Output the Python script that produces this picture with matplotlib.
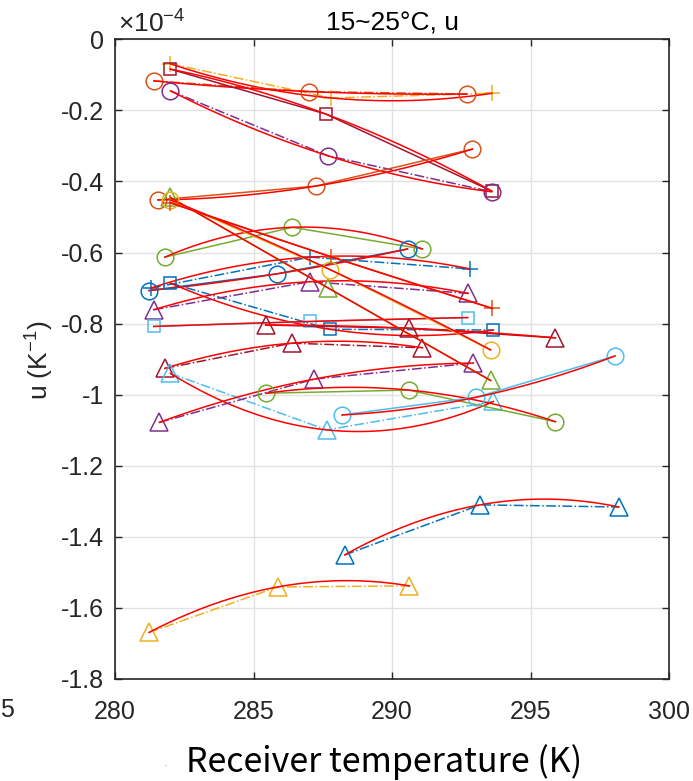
import matplotlib.pyplot as plt
import numpy as np
from matplotlib.ticker import FuncFormatter

plt.rcParams['font.family'] = ['Liberation Sans', 'DejaVu Sans']
plt.rcParams['mathtext.default'] = 'regular'

# receiver temperature (K), three set-points per run
temp_runs = [
    [282.0, 287.8, 293.6],
    [281.4, 287.0, 292.7],
    [282.0, 287.6, 293.6],
    [282.0, 287.7, 293.6],
    [281.55, 287.25, 292.9],
    [281.8, 286.4, 291.1],
    [281.23, 285.84, 290.56],
    [281.3, 287.04, 292.8],
    [282.0, 287.76, 293.66],
    [281.4, 287.04, 292.75],
    [281.4, 287.04, 292.73],
    [285.44, 290.6, 295.9],
    [281.8, 286.38, 291.1],
    [282.0, 287.64, 293.66],
    [281.6, 287.2, 292.94],
    [285.45, 290.6, 295.9],
    [288.2, 293.05, 298.05],
    [282.0, 287.7, 293.56],
    [282.0, 287.76, 293.56],
    [282.0, 287.8, 293.62],
    [288.29, 293.18, 298.19],
    [281.23, 285.87, 290.63],
]
# u, in units of 1e-4 1/K
u_runs = [
    [-0.069, -0.165, -0.152],
    [-0.117, -0.147, -0.154],
    [-0.084, -0.210, -0.427],
    [-0.145, -0.328, -0.429],
    [-0.452, -0.413, -0.309],
    [-0.613, -0.529, -0.590],
    [-0.707, -0.660, -0.590],
    [-0.700, -0.613, -0.646],
    [-0.686, -0.816, -0.818],
    [-0.761, -0.682, -0.715],
    [-0.808, -0.794, -0.783],
    [-0.804, -0.813, -0.840],
    [-0.926, -0.855, -0.868],
    [-0.940, -1.099, -1.019],
    [-1.078, -0.956, -0.911],
    [-0.996, -0.987, -1.076],
    [-1.057, -1.007, -0.891],
    [-0.445, -0.700, -0.960],
    [-0.452, -0.648, -0.874],
    [-0.460, -0.612, -0.757],
    [-1.451, -1.310, -1.316],
    [-1.669, -1.541, -1.538],
]

# matlab default colour order
C1, C2, C3, C4, C5, C6, C7 = ('#0072BD', '#D95319', '#EDB120', '#7E2F8E',
                              '#77AC30', '#4DBEEE', '#A2142F')
run_colors = [C3, C2, C7, C4, C2, C5, C1, C1, C1, C4, C6,
              C7, C7, C6, C4, C5, C6, C5, C3, C2, C1, C3]
run_markers = ['+', 'o', 's', 'o', 'o', 'o', 'o', '+', 's', '^', 's',
               '^', '^', '^', '^', 'o', 'o', '^', 'o', '+', '^', '^']
run_styles = ['-.', '-.', '-', '-.', '-', '-', '-', '-.', '-.', '-.', '-',
              '-', '-.', '-.', '-.', '-', '-', '-', '-', '-', '-.', '-.']
marker_sizes = {'o': 12, 's': 9, '^': 12.5, '+': 12}

fig = plt.figure(figsize=(6.93, 7.81), dpi=100)
ax = fig.add_axes([115 / 693, 1 - 679 / 781, 554 / 693, 639.7 / 781])

for t, u, c, m, ls in zip(temp_runs, u_runs, run_colors, run_markers, run_styles):
    ax.plot(t, u, linestyle=ls, color=c, marker=m, markersize=marker_sizes[m],
            markerfacecolor='none', markeredgewidth=1.1, linewidth=1.1)
    # quadratic fit through the three points
    coef = np.polyfit(t, u, 2)
    tt = np.linspace(min(t), max(t), 100)
    ax.plot(tt, np.polyval(coef, tt), color='red', linewidth=1.1)

ax.set_xlim(280, 300)
ax.set_ylim(-1.8, 0)
ax.set_xticks(np.arange(280, 301, 5))
ax.set_yticks(np.arange(-1.8, 0.01, 0.2))
ax.yaxis.set_major_formatter(FuncFormatter(
    lambda v, p: '0' if abs(v) < 1e-9 else f'{round(v, 1):g}'))
ax.grid(True, color='#e2e2e2', linewidth=1.0)
ax.set_axisbelow(True)
ax.tick_params(direction='in', length=5, width=1.0, top=True, right=True,
               labelsize=18, colors='#262626')
ax.tick_params(axis='x', pad=15)
ax.tick_params(axis='y', pad=8)
for s in ax.spines.values():
    s.set_color('#262626')
    s.set_linewidth(1.2)

ax.set_title('15~25\u00b0C, u', fontsize=19, pad=6, color='black')
ax.text(0.005, 1.003, '\u00d710$^{-4}$', transform=ax.transAxes,
        fontsize=19, color='#262626', ha='left', va='bottom')
fig.text(40 / 693, 1 - 360 / 781, 'u (K$^{-1}$)', rotation=90,
         ha='center', va='center', fontsize=19, color='#262626')
fig.text(384 / 693, 1 - 762 / 781, 'Receiver temperature (K)',
         family=['Noto Sans CJK SC', 'DejaVu Sans'], fontweight='light',
         ha='center', va='center', fontsize=24.5, color='black')
# trailing digit of a neighbouring panel's tick label
fig.text(0.0, 1 - 710 / 781, '5', ha='left', va='center',
         fontsize=18, color='#262626')
fig.text(165 / 693, 1 - 765 / 781, '.', ha='center', va='center',
         fontsize=5, color='#444444')

fig.savefig('out.png', dpi=100)
